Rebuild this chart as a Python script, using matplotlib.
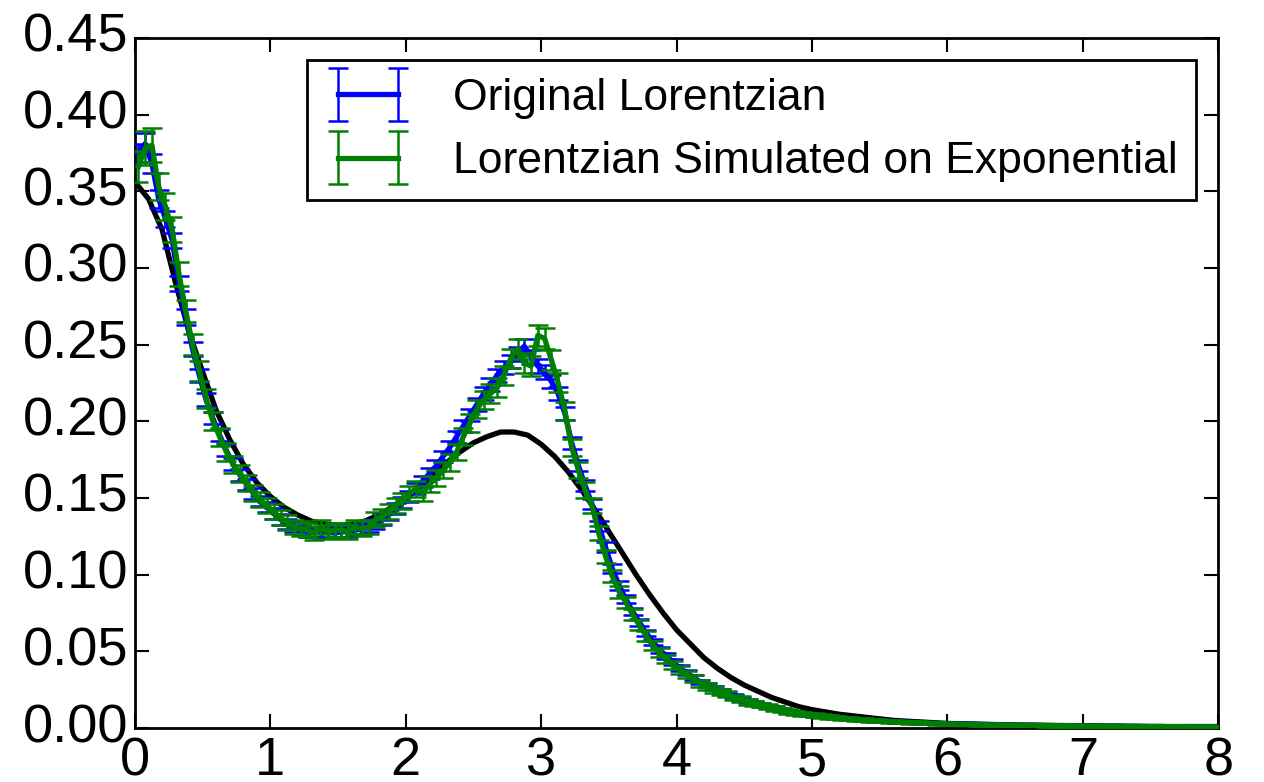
import numpy as np
import matplotlib
matplotlib.use('Agg')
import matplotlib.pyplot as plt
from matplotlib.container import ErrorbarContainer
from matplotlib.legend_handler import HandlerErrorbar

# bin centres of the histograms (0.05 wide bins from 0 to 8)
x = np.linspace(0.025, 7.975, 160)

orig = [0.375, 0.381, 0.368, 0.345, 0.332, 0.318, 0.290, 0.268, 0.247, 0.230,
        0.214, 0.202, 0.191, 0.181, 0.172, 0.165, 0.159, 0.153, 0.148, 0.144,
        0.140, 0.136, 0.133, 0.131, 0.129, 0.128, 0.128, 0.127, 0.128, 0.127,
        0.128, 0.128, 0.129, 0.130, 0.131, 0.133, 0.136, 0.139, 0.143, 0.147,
        0.151, 0.156, 0.161, 0.166, 0.171, 0.177, 0.183, 0.190, 0.197, 0.204,
        0.211, 0.218, 0.224, 0.230, 0.235, 0.239, 0.244, 0.249, 0.242, 0.236,
        0.232, 0.226, 0.218, 0.205, 0.186, 0.171, 0.158, 0.146, 0.132, 0.118,
        0.104, 0.093, 0.084, 0.076, 0.069, 0.062, 0.056, 0.051, 0.047, 0.043,
        0.039, 0.036, 0.033, 0.030, 0.028, 0.026, 0.024, 0.022, 0.021, 0.019,
        0.0175, 0.0162, 0.0150, 0.0140, 0.0130, 0.0120, 0.0110, 0.0102, 0.0095, 0.0089,
        0.0084, 0.0079, 0.0074, 0.0070, 0.0066, 0.0062, 0.0058, 0.0055, 0.0052, 0.0049,
        0.0046, 0.0044, 0.0042, 0.0040, 0.0038, 0.0036, 0.0034, 0.0032, 0.0030, 0.0029,
        0.0028, 0.0027, 0.0026, 0.0025, 0.0024, 0.0023, 0.0022, 0.0021, 0.0020, 0.0020,
        0.0019, 0.0018, 0.0018, 0.0017, 0.0016, 0.0016, 0.0015, 0.0015, 0.0014, 0.0014,
        0.0014, 0.0013, 0.0013, 0.0012, 0.0012, 0.0012, 0.0011, 0.0011, 0.0011, 0.0010,
        0.0010, 0.0010, 0.0009, 0.0009, 0.0009, 0.0009, 0.0009, 0.0008, 0.0008, 0.0008]
orig_err = [0.006, 0.007, 0.006, 0.006, 0.005, 0.005, 0.005, 0.005, 0.0045, 0.0043,
            0.0042, 0.0040, 0.0040, 0.0039, 0.0038, 0.0037, 0.0036, 0.0035, 0.0035, 0.0034,
            0.0034, 0.0033, 0.0033, 0.0033, 0.0032, 0.0032, 0.0032, 0.0032, 0.0032, 0.0032,
            0.0032, 0.0032, 0.0032, 0.0033, 0.0033, 0.0033, 0.0033, 0.0034, 0.0034, 0.0035,
            0.0035, 0.0036, 0.0036, 0.0037, 0.0037, 0.0038, 0.0039, 0.0039, 0.0040, 0.0041,
            0.0042, 0.0042, 0.0043, 0.0044, 0.0044, 0.0045, 0.0045, 0.0046, 0.0045, 0.0044,
            0.0044, 0.0043, 0.0042, 0.0041, 0.0039, 0.0037, 0.0036, 0.0035, 0.0033, 0.0031,
            0.0029, 0.0028, 0.0026, 0.0025, 0.0024, 0.0022, 0.0021, 0.0020, 0.0019, 0.0019,
            0.0018, 0.0017, 0.0016, 0.0016, 0.0015, 0.0015, 0.0014, 0.0014, 0.0013, 0.0013,
            0.0012, 0.0012, 0.0011, 0.0011, 0.0011, 0.0010, 0.0010, 0.0010, 0.0009, 0.0009,
            0.0009, 0.0009, 0.0008, 0.0008, 0.0008, 0.0008, 0.0007, 0.0007, 0.0007, 0.0007,
            0.0007, 0.0006, 0.0006, 0.0006, 0.0006, 0.0006, 0.0006, 0.0005, 0.0005, 0.0005,
            0.0005, 0.0005, 0.0005, 0.0005, 0.0005, 0.0005, 0.0005, 0.0005, 0.0005, 0.0005,
            0.0004, 0.0004, 0.0004, 0.0004, 0.0004, 0.0004, 0.0004, 0.0004, 0.0004, 0.0004,
            0.0004, 0.0004, 0.0004, 0.0004, 0.0004, 0.0004, 0.0004, 0.0004, 0.0004, 0.0004,
            0.0003, 0.0003, 0.0003, 0.0003, 0.0003, 0.0003, 0.0003, 0.0003, 0.0003, 0.0003]

sim = [0.366, 0.378, 0.380, 0.353, 0.340, 0.325, 0.296, 0.272, 0.250, 0.233,
       0.215, 0.200, 0.190, 0.180, 0.172, 0.166, 0.160, 0.153, 0.149, 0.145,
       0.141, 0.137, 0.134, 0.131, 0.130, 0.129, 0.127, 0.131, 0.128, 0.129,
       0.129, 0.128, 0.131, 0.130, 0.131, 0.136, 0.138, 0.141, 0.145, 0.148,
       0.153, 0.156, 0.153, 0.159, 0.163, 0.168, 0.173, 0.180, 0.190, 0.199,
       0.208, 0.214, 0.218, 0.222, 0.230, 0.241, 0.247, 0.238, 0.236, 0.256,
       0.254, 0.240, 0.225, 0.207, 0.183, 0.168, 0.155, 0.145, 0.127, 0.112,
       0.099, 0.089, 0.082, 0.074, 0.067, 0.060, 0.054, 0.049, 0.045, 0.041,
       0.038, 0.035, 0.032, 0.029, 0.027, 0.025, 0.0235, 0.022, 0.020, 0.019,
       0.017, 0.016, 0.015, 0.014, 0.0128, 0.0118, 0.0108, 0.0100, 0.0093, 0.0088,
       0.0083, 0.0078, 0.0073, 0.0069, 0.0065, 0.0061, 0.0057, 0.0054, 0.0051, 0.0048,
       0.0046, 0.0043, 0.0041, 0.0039, 0.0037, 0.0035, 0.0033, 0.0031, 0.0030, 0.0028,
       0.0027, 0.0026, 0.0025, 0.0024, 0.0023, 0.0022, 0.0021, 0.0021, 0.0020, 0.0019,
       0.0019, 0.0018, 0.0017, 0.0017, 0.0016, 0.0016, 0.0015, 0.0015, 0.0014, 0.0014,
       0.0013, 0.0013, 0.0013, 0.0012, 0.0012, 0.0011, 0.0011, 0.0011, 0.0010, 0.0010,
       0.0010, 0.0010, 0.0009, 0.0009, 0.0009, 0.0009, 0.0008, 0.0008, 0.0008, 0.0008]
sim_err = [0.010, 0.011, 0.011, 0.009, 0.009, 0.008, 0.008, 0.007, 0.007, 0.0065,
           0.0062, 0.0060, 0.0058, 0.0056, 0.0055, 0.0054, 0.0053, 0.0052, 0.0051, 0.0050,
           0.0050, 0.0049, 0.0048, 0.0048, 0.0047, 0.0047, 0.0047, 0.0047, 0.0047, 0.0047,
           0.0047, 0.0047, 0.0047, 0.0047, 0.0047, 0.0048, 0.0048, 0.0049, 0.0050, 0.0050,
           0.0051, 0.0051, 0.0051, 0.0052, 0.0052, 0.0053, 0.0054, 0.0055, 0.0057, 0.0058,
           0.0059, 0.0060, 0.0061, 0.0061, 0.0062, 0.0064, 0.0065, 0.0063, 0.0063, 0.0066,
           0.0066, 0.0064, 0.0062, 0.0059, 0.0056, 0.0053, 0.0051, 0.0050, 0.0046, 0.0044,
           0.0041, 0.0039, 0.0037, 0.0035, 0.0034, 0.0032, 0.0030, 0.0029, 0.0028, 0.0026,
           0.0025, 0.0024, 0.0023, 0.0022, 0.0021, 0.0021, 0.0020, 0.0019, 0.0018, 0.0018,
           0.0017, 0.0016, 0.0016, 0.0015, 0.0015, 0.0014, 0.0014, 0.0013, 0.0013, 0.0012,
           0.0012, 0.0011, 0.0011, 0.0011, 0.0010, 0.0010, 0.0010, 0.0010, 0.0009, 0.0009,
           0.0009, 0.0009, 0.0008, 0.0008, 0.0008, 0.0008, 0.0008, 0.0007, 0.0007, 0.0007,
           0.0007, 0.0007, 0.0007, 0.0007, 0.0007, 0.0007, 0.0007, 0.0007, 0.0007, 0.0007,
           0.0006, 0.0006, 0.0006, 0.0006, 0.0006, 0.0006, 0.0006, 0.0006, 0.0006, 0.0006,
           0.0005, 0.0005, 0.0005, 0.0005, 0.0005, 0.0005, 0.0005, 0.0005, 0.0005, 0.0005,
           0.0005, 0.0005, 0.0005, 0.0005, 0.0005, 0.0005, 0.0005, 0.0005, 0.0005, 0.0005]

# fitted curve (black)
fit_x = [0.0, 0.1, 0.2, 0.3, 0.4, 0.5, 0.6, 0.7, 0.8, 0.9,
         1.0, 1.1, 1.2, 1.3, 1.4, 1.5, 1.6, 1.7, 1.8, 1.9,
         2.0, 2.1, 2.2, 2.3, 2.4, 2.5, 2.6, 2.7, 2.8, 2.9,
         3.0, 3.1, 3.2, 3.3, 3.4, 3.5, 3.6, 3.7, 3.8, 3.9,
         4.0, 4.1, 4.2, 4.3, 4.4, 4.5, 4.6, 4.7, 4.8, 4.9,
         5.0, 5.2, 5.4, 5.6, 5.8, 6.0, 6.5, 7.0, 7.5, 8.0]
fit_y = [0.356, 0.345, 0.325, 0.290, 0.258, 0.232, 0.207, 0.188, 0.172, 0.160,
         0.151, 0.144, 0.139, 0.135, 0.133, 0.132, 0.133, 0.135, 0.139, 0.144,
         0.150, 0.157, 0.165, 0.173, 0.180, 0.186, 0.190, 0.193, 0.193, 0.191,
         0.185, 0.177, 0.167, 0.155, 0.142, 0.128, 0.114, 0.100, 0.087, 0.075,
         0.064, 0.055, 0.046, 0.039, 0.033, 0.028, 0.024, 0.020, 0.017, 0.014,
         0.012, 0.009, 0.007, 0.005, 0.004, 0.003, 0.002, 0.0015, 0.001, 0.001]

plt.style.use('classic')
plt.rcParams['font.family'] = ['Liberation Sans', 'DejaVu Sans']

fig = plt.figure(figsize=(12.64, 7.82), dpi=100, facecolor='white')
ax = fig.add_axes([0.1068, 0.069, 0.857, 0.8826])

ax.plot(fit_x, fit_y, color='k', lw=3.8, zorder=2)
ax.errorbar(x, orig, yerr=orig_err, color='b', lw=3.8, elinewidth=1.8,
            capsize=7, capthick=1.8, label='Original Lorentzian', zorder=3)
ax.errorbar(x, sim, yerr=sim_err, color='g', lw=3.8, elinewidth=1.8,
            capsize=7, capthick=1.8, label='Lorentzian Simulated on Exponential', zorder=4)

ax.set_xlim(0, 8)
ax.set_ylim(0, 0.45)
ax.set_xticks(range(0, 9))
ax.set_yticks(np.arange(0, 0.451, 0.05))
ax.set_yticklabels(['%.2f' % v for v in np.arange(0, 0.451, 0.05)])
ax.tick_params(labelsize=39, length=10, width=1.5, direction='in',
               top=True, right=True)
ax.tick_params(axis='x', pad=6)
ax.tick_params(axis='y', pad=5)
for s in ax.spines.values():
    s.set_linewidth(2)

leg = ax.legend(loc='upper right', fontsize=32, numpoints=2, handlelength=1.95,
                handletextpad=0.95, labelspacing=0.5, borderaxespad=0.5,
                handler_map={ErrorbarContainer: HandlerErrorbar(yerr_size=0.6)})
leg.get_frame().set_linewidth(2)
leg.get_frame().set_edgecolor('k')

fig.savefig('out.png', dpi=100, facecolor='white')
